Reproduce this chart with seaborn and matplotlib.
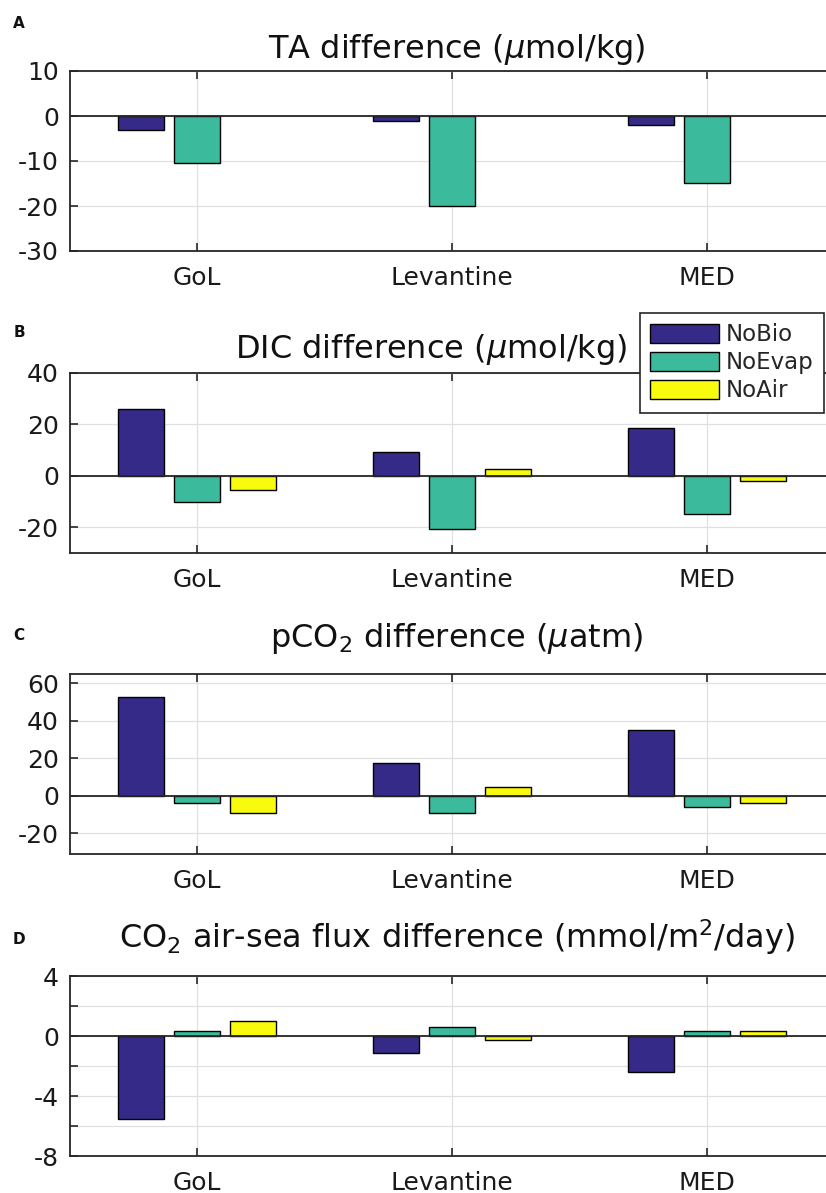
import numpy as np
import pandas as pd
import matplotlib
matplotlib.use("Agg")
import matplotlib.pyplot as plt
import seaborn as sns

regions = ["GoL", "Levantine", "MED"]
scenarios = ["NoBio", "NoEvap", "NoAir"]

ta_nobio = [-3.0, -1.1, -2.0]
ta_noevap = [-10.4, -19.9, -14.9]
ta_noair = [np.nan, np.nan, np.nan]

dic_nobio = [26.0, 9.2, 18.5]
dic_noevap = [-10.1, -20.7, -14.8]
dic_noair = [-5.5, 2.5, -2.1]

pco2_nobio = [52.7, 17.3, 35.4]
pco2_noevap = [-3.8, -9.1, -5.7]
pco2_noair = [-9.1, 4.5, -3.6]

flux_nobio = [-5.53, -1.13, -2.4]
flux_noevap = [0.33, 0.6, 0.33]
flux_noair = [1.02, -0.27, 0.36]

panel_letters = ["A", "B", "C", "D"]
titles = [
    r"TA difference ($\mu$mol/kg)",
    r"DIC difference ($\mu$mol/kg)",
    r"pCO$_2$ difference ($\mu$atm)",
    r"CO$_2$ air-sea flux difference (mmol/m$^2$/day)",
]
ylims = [(-30, 10), (-30, 40), (-31, 65), (-8, 4)]
yticks = [[-30, -20, -10, 0, 10], [-20, 0, 20, 40], [-20, 0, 20, 40, 60],
          [-8, -6, -4, -2, 0, 2, 4]]
ytick_labels = [["-30", "-20", "-10", "0", "10"], ["-20", "0", "20", "40"],
                ["-20", "0", "20", "40", "60"],
                ["-8", "", "-4", "", "0", "", "4"]]

colors = ["#352a87", "#3cba9c", "#f9fb0e"]

sns.set_style("white")
plt.rcParams["font.family"] = ["DejaVu Sans"]
plt.rcParams["mathtext.fontset"] = "dejavusans"

W, H = 826, 1193
fig = plt.figure(figsize=(W / 100, H / 100), dpi=100)

series = [
    (ta_nobio, ta_noevap, ta_noair),
    (dic_nobio, dic_noevap, dic_noair),
    (pco2_nobio, pco2_noevap, pco2_noair),
    (flux_nobio, flux_noevap, flux_noair),
]

ax_tops = [71, 373, 674, 976]
ax_h = 180
left_px, right_px = 70, 834
title_base = [58, 358, 647, 948]
title_cx = [457, 431, 457, 457]
letter_y = [23, 332, 636, 939]

for i in range(4):
    top = ax_tops[i]
    ax = fig.add_axes([left_px / W, 1 - (top + ax_h) / H,
                       (right_px - left_px) / W, ax_h / H])
    nb, ne, na = series[i]
    df = pd.DataFrame({
        "region": regions * 3,
        "scenario": np.repeat(scenarios, 3),
        "value": list(nb) + list(ne) + list(na),
    })
    sns.barplot(data=df, x="region", y="value", hue="scenario",
                hue_order=scenarios, order=regions, palette=colors,
                width=0.66, gap=0.18, edgecolor="black", linewidth=1.0,
                errorbar=None, saturation=1, legend=(i == 1), ax=ax, zorder=3)
    ax.set_xlim(-0.5, 2.5)
    ax.set_ylim(*ylims[i])
    ax.set_yticks(yticks[i])
    ax.set_yticklabels(ytick_labels[i])
    ax.set_xlabel("")
    ax.set_ylabel("")
    ax.grid(True, color="#e0e0e0", linewidth=0.9, zorder=0)
    ax.set_axisbelow(True)
    ax.axhline(0, color="#262626", linewidth=1.3, zorder=4)
    for s in ax.spines.values():
        s.set_color("#262626")
        s.set_linewidth(1.3)
    ax.spines["right"].set_visible(False)
    ax.tick_params(axis="both", direction="in", labelsize=18, length=6,
                   width=1.2, color="#262626", labelcolor="#1a1a1a",
                   top=True, right=False, left=True, bottom=True)
    ax.tick_params(axis="x", pad=11)
    ax.tick_params(axis="y", pad=8)

    fig.text(title_cx[i] / W, 1 - title_base[i] / H, titles[i],
             ha="center", va="baseline", fontsize=23, color="#111111")
    fig.text(19 / W, 1 - letter_y[i] / H, panel_letters[i], ha="center",
             va="center", fontsize=11, fontweight="bold", color="#111111")

    if i == 1:
        leg = ax.legend(loc="upper left",
                        bbox_to_anchor=(640 / W, 1 - 313 / H),
                        bbox_transform=fig.transFigure, fontsize=16.5,
                        frameon=True, fancybox=False, framealpha=1,
                        edgecolor="#262626", handlelength=3.0,
                        handleheight=0.95, handletextpad=0.3,
                        labelspacing=0.22, borderpad=0.45, borderaxespad=0)
        leg.get_frame().set_linewidth(1.2)
        leg.set_zorder(10)
        for h in leg.legend_handles:
            h.set_edgecolor("black")
            h.set_linewidth(1.0)

fig.savefig("out.png", dpi=100, facecolor="white")
